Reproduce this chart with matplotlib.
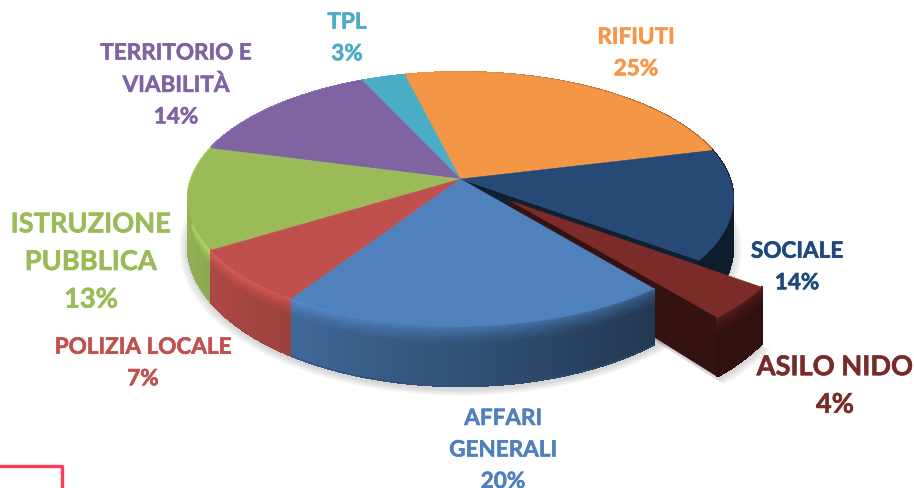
import numpy as np
import matplotlib
matplotlib.use('Agg')
import matplotlib.pyplot as plt
import matplotlib.patheffects as pe
from matplotlib.collections import PolyCollection
from matplotlib.colors import to_rgb

# Slices, clockwise starting from RIFIUTI
labels = ['RIFIUTI', 'SOCIALE', 'ASILO NIDO', 'AFFARI\nGENERALI', 'POLIZIA LOCALE',
          'ISTRUZIONE\nPUBBLICA', 'TERRITORIO E\nVIABILITÀ', 'TPL']
values = [25, 14, 4, 20, 7, 13, 14, 3]
colors = ['#f39645', '#264a75', '#7b2b28', '#4f81bd', '#c0504d', '#9bbb59', '#8064a2', '#4bacc6']
text_colors = ['#f79646', '#1f497d', '#772c2a', '#4f81bd', '#c0504d', '#9bbb59', '#8064a2', '#4bacc6']
label_xy = [(636, 54), (797, 268), (835, 387), (503, 451), (143, 364), (91, 263), (176, 86), (347, 39)]
label_size = [16.2, 16.2, 19.6, 16.2, 16.2, 19.6, 16.2, 16.2]
label_spacing = [1.62, 1.62, 1.68, 1.62, 1.62, 1.68, 1.62, 1.62]
exploded = [0, 0, 0.25, 0, 0, 0, 0, 0]
draw_order = [0, 7, 6, 5, 4, 1, 2, 3]

start_deg = -13.85
cx = 460.5
top_cy, bot_cy = 180, 224
top_b, bot_b = 123.9, 137.5
rx = 269.5
persp = 0.1575


def project(X, Y, level):
    # level 0 = top face, 1 = bottom face
    cy = top_cy + (bot_cy - top_cy) * level
    b = top_b + (bot_b - top_b) * level
    d = 1 + persp * Y
    return cx + rx * X / d, cy - b * Y / d


def shade(rgb, k):
    return tuple(np.clip(np.array(rgb) * k, 0, 1))


def mix(a, b, f):
    return tuple(np.array(a) * (1 - f) + np.array(b) * f)


def side_k(X):
    return max(0.38, 0.63 - 0.32 * X)


def side_strip(ax, xs, ys, col, zorder, bevel=True):
    # wall along the rim, split in small cells for the gradient
    rows = np.linspace(0, 0.3, 9).tolist() + [1.0]
    polys, fc = [], []
    rgb = to_rgb(col)
    for i in range(len(xs) - 1):
        Xm = (xs[i] + xs[i + 1]) / 2
        base = shade(rgb, side_k(Xm))
        glow = shade(rgb, 1.25 - 0.3 * (Xm + 1))
        for r in range(len(rows) - 1):
            f0, f1 = rows[r], rows[r + 1]
            pts = []
            for (j, lev) in [(i, f0), (i + 1, f0), (i + 1, f1), (i, f1)]:
                pts.append(project(xs[j], ys[j], lev))
            polys.append(pts)
            fr = min(1, r / (len(rows) - 2))
            fc.append(mix(glow, base, fr ** 0.7) if bevel else base)
    ax.add_collection(PolyCollection(polys, facecolors=fc, edgecolors=fc, linewidths=0.8,
                                     antialiaseds=False, zorder=zorder))
    # smooth the outer edge, the cells have no antialiasing
    bx, by = project(xs, ys, 1)
    ax.plot(bx, by, color=shade(rgb, side_k(np.mean(xs))), lw=0.7, zorder=zorder)


def wall(ax, ox, oy, X, Y, col, zorder):
    # cut face from pie centre out to the rim
    pts = [project(ox, oy, 0), project(X, Y, 0), project(X, Y, 1), project(ox, oy, 1)]
    ax.fill(*zip(*pts), color=col, lw=0.4, zorder=zorder)


fig = plt.figure(figsize=(9.14, 4.89), dpi=100)
ax = fig.add_axes([0, 0, 1, 1])
ax.set_xlim(0, 914)
ax.set_ylim(489, 0)
ax.axis('off')

fracs = np.array(values) / sum(values)
edges = np.deg2rad(start_deg + 360 * np.concatenate([[0], np.cumsum(fracs)]))

# soft shadow under the pie
tt = np.linspace(0, 2 * np.pi, 200)
for g in np.linspace(1.03, 1.0, 8):
    sx, sy = project(np.sin(tt) * g, np.cos(tt) * g, 1.06)
    ax.fill(sx, sy, color='#808080', alpha=0.045, lw=0, zorder=1)
mid = (edges[2] + edges[3]) / 2
t2 = np.linspace(edges[2], edges[3], 30)
for g in np.linspace(1.03, 1.0, 8):
    ex = np.r_[0, np.sin(t2) * g] + exploded[2] * np.sin(mid)
    ey = np.r_[0, np.cos(t2) * g] + exploded[2] * np.cos(mid)
    sx, sy = project(ex, ey, 1.06)
    ax.fill(sx, sy, color='#808080', alpha=0.045, lw=0, zorder=1)

z = 2
for i in draw_order:
    a0, a1 = edges[i], edges[i + 1]
    am = (a0 + a1) / 2
    ox, oy = exploded[i] * np.sin(am), exploded[i] * np.cos(am)
    t = np.linspace(a0, a1, max(12, int(values[i] * 4)))
    xs, ys = ox + np.sin(t), oy + np.cos(t)
    rgb = to_rgb(colors[i])

    # visible cut faces first
    if i in (1, 2):
        wall(ax, ox, oy, xs[-1], ys[-1], shade(rgb, 0.42), z)
    z += 1
    side_strip(ax, xs, ys, colors[i], z, bevel=i != 1)
    z += 1
    px, py = project(np.r_[ox, xs], np.r_[oy, ys], 0)
    ax.fill(px, py, color=colors[i], lw=0.3, zorder=z)
    z += 1

# labels
for i in range(len(labels)):
    ax.text(label_xy[i][0], label_xy[i][1], f"{labels[i]}\n{values[i]}%", color=text_colors[i],
            family=['Lato', 'DejaVu Sans'], fontweight='bold', fontsize=label_size[i],
            ha='center', va='center', linespacing=label_spacing[i], zorder=50,
            path_effects=[pe.withStroke(linewidth=0.4, foreground=text_colors[i])])

# red corner cropped in at the bottom left
ax.plot([0, 62, 62], [467, 467, 489], color='#ff3b5c', lw=2.4, solid_joinstyle='round', zorder=50)

fig.savefig('out.png', dpi=100)
